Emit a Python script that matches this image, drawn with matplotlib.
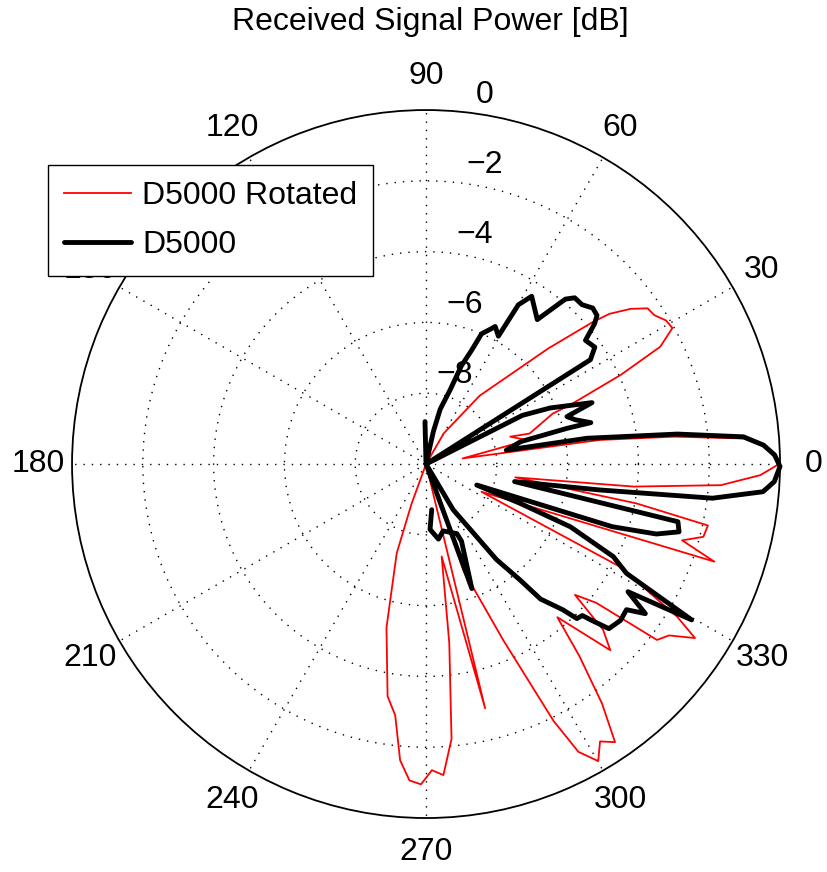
import numpy as np
import matplotlib
matplotlib.use('Agg')
from matplotlib import pyplot as plt

plt.rcParams['font.family'] = ['Liberation Sans', 'DejaVu Sans']

# D5000 sweep: azimuth [deg] and received power [dB]
d5000_ang = [91.4, 85.0, 77.3, 75.5, 72.0, 70.2, 68.2, 66.9, 64.2, 63.3,
             60.5, 59.9, 57.8, 52.4, 49.8, 48.2, 45.6, 43.1, 41.0, 39.8,
             37.8, 34.7, 32.4, 30.0, 26.8, 24.3, 20.3, 18.6, 16.5, 14.1,
             14.2, 13.3, 9.8, 9.1, 6.8, 4.9, 3.2, 1.5, -0.4, -2.9,
             -4.7, -6.8, -8.5, -11.2, -12.9, -15.0, -16.9, -18.6, -22.5, -22.7,
             -23.5, -26.3, -28.6, -30.4, -32.3, -34.3, -36.0, -38.8, -42.0, -43.3,
             -44.1, -45.7, -46.8, -49.7, -51.0, -53.6, -59.3, -62.0, -69.8, -65.3,
             -66.1, -75.7, -80.6, -86.5, -82.9]
d5000_db = [-8.8, -10, -9.05, -8.4, -7.8, -7.05, -6.55, -6.0, -5.75, -5.65,
            -5.85, -4.8, -4.4, -4.85, -3.9, -3.7, -3.7, -3.55, -3.6, -3.8,
            -4.3, -4.2, -4.5, -10, -6.95, -6.15, -5.0, -5.8, -5.6, -5.2,
            -5.9, -7.25, -7.7, -5.4, -2.85, -1.0, -0.45, -0.15, 0.0, -0.15,
            -0.45, -1.85, -5.05, -7.45, -2.7, -2.6, -3.2, -4.45, -8.45, -7.1,
            -5.55, -4.1, -3.55, -1.3, -3.25, -2.5, -3.0, -2.95, -3.05, -3.55,
            -3.85, -3.9, -4.35, -5.0, -5.8, -6.65, -8.5, -10, -6.25, -7.6,
            -7.85, -8.05, -7.85, -8.15, -8.7]

# rotated D5000 sweep
rot_ang = [80.0, 60.0, 51.9, 43.4, 40.4, 39.3, 37.2, 35.1, 33.1, 30.9,
           28.9, 26.6, 24.6, 22.3, 21.7, 16.4, 18.0, 13.2, 8.7, 7.9,
           6.3, 4.6, 2.9, 0.1, -1.9, -4.1, -6.2, -8.5, -10.6, -12.3,
           -14.7, -16.6, -18.7, -26.6, -27.9, -31.3, -32.9, -35.2, -37.3, -39.2,
           -41.3, -43.1, -45.3, -49.4, -51.4, -53.7, -55.8, -57.9, -59.9, -62.1,
           -63.6, -66.3, -70.6, -72.0, -76.4, -80.4, -82.6, -84.7, -86.8, -88.9,
           -90.9, -93.0, -95.0, -97.0, -99.4, -103.6, -108.2, -110.0, -112.0]
rot_db = [-10, -9.0, -7.55, -5.25, -3.8, -3.3, -2.75, -2.35, -2.3, -2.1,
          -2.05, -2.6, -3.95, -5.6, -6.15, -6.95, -7.5, -7.05, -8.95, -5.05,
          -2.95, -1.0, -0.4, 0.0, -0.55, -1.65, -4.1, -7.45, -3.95, -1.85,
          -1.9, -2.45, -1.4, -8.25, -3.8, -1.7, -0.95, -1.6, -1.8, -3.8,
          -4.4, -3.15, -2.6, -4.3, -3.05, -1.6, -0.5, -0.75, -0.3, -0.8,
          -1.9, -4.55, -6.8, -10, -2.9, -7.35, -4.9, -2.2, -1.2, -1.35,
          -0.95, -1.05, -1.6, -2.85, -3.35, -5.25, -7.35, -8.8, -10]

ring_db = [-8, -6, -4, -2, 0]
ring_labels = ['−8', '−6', '−4', '−2', '0']
spoke_deg = list(range(0, 360, 30))
spoke_labels = [str(d) for d in spoke_deg]

fig = plt.figure(figsize=(8.27, 8.72), dpi=100)
ax = fig.add_axes([0.0871, 0.0619, 0.8561, 0.8119], projection='polar')
ax.set_ylim(-10, 0)
ax.set_xticks(np.deg2rad(spoke_deg))
ax.set_xticklabels([])
ax.set_yticks(ring_db[:-1])
ax.set_yticklabels([])
ax.grid(True, color='black', linestyle=(0, (1, 5)), linewidth=1.0)
ax.spines['polar'].set_linewidth(1.3)

ax.plot(np.deg2rad(rot_ang), rot_db, color='red', lw=1.3,
        label='D5000 Rotated', clip_on=False)
ax.plot(np.deg2rad(d5000_ang), d5000_db, color='black', lw=3.5,
        solid_joinstyle='round', solid_capstyle='round',
        label='D5000', clip_on=False)

# angle labels around the rim
for deg, lab in zip(spoke_deg, spoke_labels):
    t = np.deg2rad(deg)
    ax.text(0.5 + 0.548 * np.cos(t), 0.5 + 0.548 * np.sin(t), lab,
            transform=ax.transAxes, ha='center', va='center', fontsize=23)

# ring labels
for r, lab in zip(ring_db, ring_labels):
    ax.text(np.deg2rad(82), r + 0.1, lab, ha='left', va='bottom', fontsize=23)

fig.text(0.52, 1 - 22 / 872, 'Received Signal Power [dB]', ha='center',
         va='center', fontsize=23)

leg = ax.legend(loc='upper left', bbox_to_anchor=(48 / 827, 1 - 165 / 872),
                bbox_transform=fig.transFigure, fontsize=23, frameon=True,
                fancybox=False, framealpha=1, edgecolor='black',
                borderaxespad=0, handlelength=2.1, handletextpad=0.35,
                borderpad=0.5, labelspacing=0.6)
leg.get_frame().set_linewidth(1.0)
leg.set_zorder(10)

fig.savefig('out.png', dpi=100)
